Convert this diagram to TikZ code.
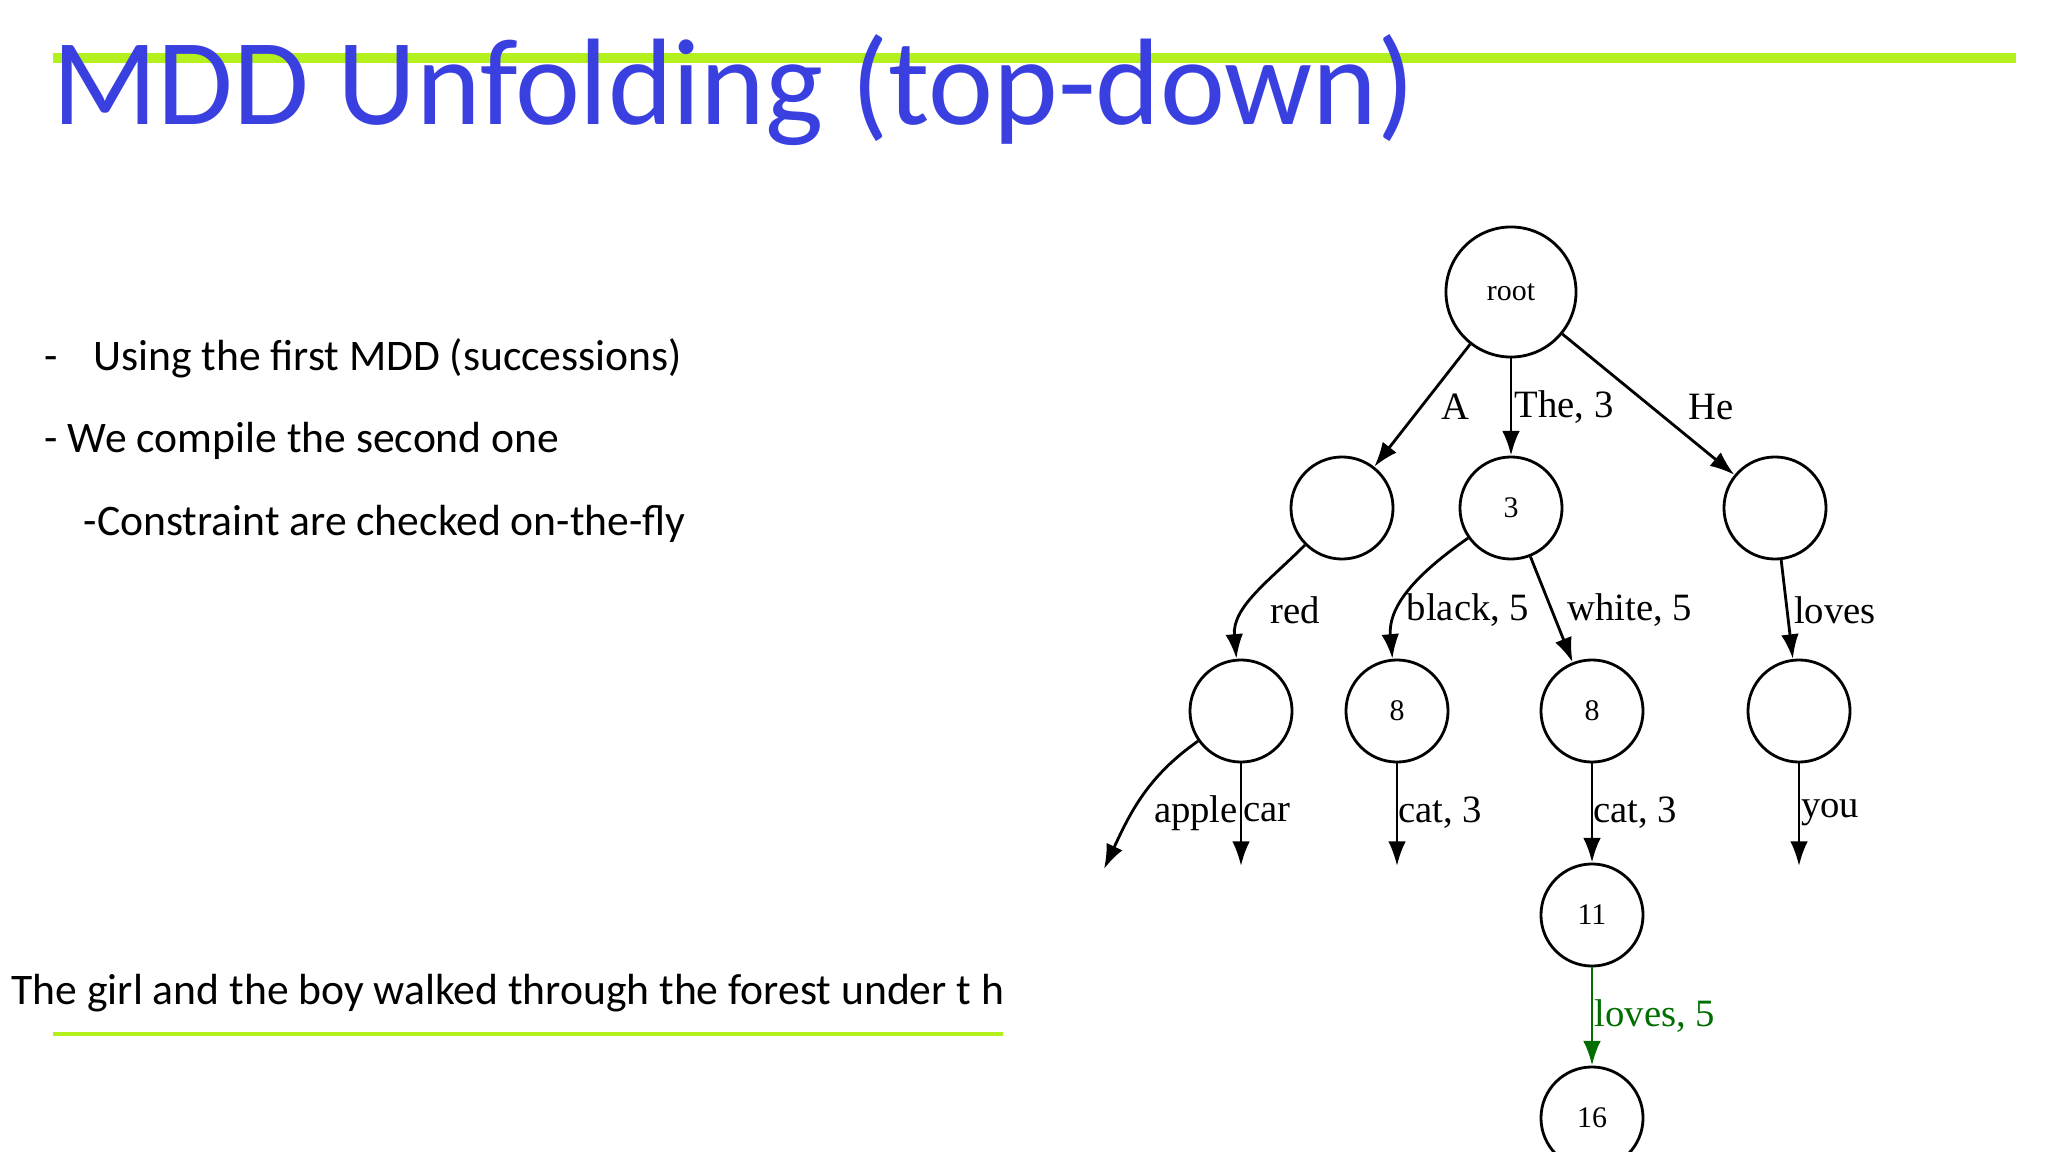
\documentclass[tikz,border=0pt]{standalone}
\usepackage{fontspec}
\setmainfont{Carlito}
\newfontfamily\tms{Liberation Serif}
\usetikzlibrary{arrows.meta}
\definecolor{ttl}{RGB}{58,64,224}
\definecolor{lime}{RGB}{180,240,30}
\definecolor{dg}{RGB}{0,110,0}
\begin{document}
\begin{tikzpicture}[x=0.01cm,y=-0.01cm,
  st/.style={circle,draw,line width=0.8pt,minimum size=1.02cm,inner sep=0pt,font=\tms\fontsize{8.5}{10}\selectfont},
  ed/.style={line width=0.8pt,-{Latex[length=7pt,width=5pt]}},
  lb/.style={font=\tms\fontsize{11}{13}\selectfont,inner sep=0pt},
  bt/.style={font=\fontsize{12.4}{14}\selectfont,anchor=base west,inner sep=0pt}]
\useasboundingbox (0,0) rectangle (2048,1152);
\draw[lime,line width=2.6pt] (53,58) -- (2016,58);
\node[anchor=base west,inner sep=0pt,text=ttl,font=\fontsize{35}{40}\selectfont] (title) at (52,125) {MDD Unfolding (top-down)};
\node[bt] (b1) at (44,371) {-\hspace{10pt}Using the first MDD (successions)};
\node[bt] (b2) at (44,453) {- We compile the second one};
\node[bt] (b3) at (83,536) {-Constraint are checked on-the-fly};
\node[bt] (bt) at (11,1004) {The girl and the boy walked through the forest under t h};
\draw[lime,line width=1.2pt] (53,1034) -- (1003,1034);
\node[st,minimum size=1.3cm] (root) at (1511,292) {root};
\node[st] (na) at (1342,508) {};
\node[st] (n3) at (1511,508) {3};
\node[st] (nh) at (1775,508) {};
\node[st] (nr) at (1241,711) {};
\node[st] (e1) at (1397,711) {8};
\node[st] (e2) at (1592,711) {8};
\node[st] (ny) at (1799,711) {};
\node[st] (n11) at (1592,915) {11};
\node[st] (n16) at (1592,1118) {16};
\coordinate (fa) at (1104,869);
\coordinate (fc) at (1241,866);
\coordinate (fk) at (1397,866);
\coordinate (fy) at (1799,866);
\draw[ed] (root) -- (na);
\draw[ed] (root) -- (n3);
\draw[ed] (root) -- (nh);
\draw[ed] (na) to[out=-135,in=95] (nr);
\draw[ed] (n3) to[out=-145,in=95] (e1);
\draw[ed] (n3) -- (e2);
\draw[ed] (nh) -- (ny);
\draw[ed] (nr) to[out=-145,in=65] (fa);
\draw[ed] (nr) -- (fc);
\draw[ed] (e1) -- (fk);
\draw[ed] (e2) -- (n11);
\draw[ed] (ny) -- (fy);
\draw[ed,dg] (n11) -- (n16);
\node[lb] (la) at (1455,407) {A};
\node[lb] (lt) at (1564,407) {The, 3};
\node[lb] (lh) at (1711,407) {He};
\node[lb] (lr) at (1295,610) {red};
\node[lb] (lbk) at (1468,610) {black, 5};
\node[lb] (lw) at (1630,610) {white, 5};
\node[lb] (ll) at (1835,610) {loves};
\node[lb] (lap) at (1196,813) {apple};
\node[lb] (lca) at (1267,813) {car};
\node[lb] (lc1) at (1440,813) {cat, 3};
\node[lb] (lc2) at (1635,813) {cat, 3};
\node[lb] (lyo) at (1830,813) {you};
\node[lb,text=dg] (lg) at (1655,1016) {loves, 5};
\end{tikzpicture}
\end{document}
